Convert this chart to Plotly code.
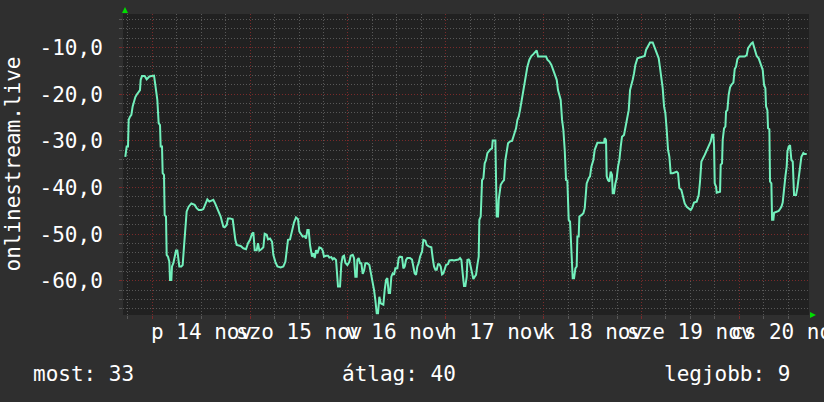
import pandas as pd
import plotly.graph_objects as go

# ---- data -------------------------------------------------------------
BASE = "2025-11-14 00:00"   # hours below are offsets from this moment
hours = [
    -6.62, -6.29, -5.96, -5.80, -5.47, -5.14, -4.82, -4.49, -4.16, -3.84,
    -3.35, -3.02, -2.85, -2.53, -1.87, -1.38, -0.73, -0.24, 0.42, 0.74,
    1.23, 1.56, 1.89, 2.05, 2.38, 2.54, 2.87, 3.03, 3.36, 3.52,
    3.85, 4.18, 4.34, 4.67, 4.83, 5.16, 5.49, 5.82, 6.14, 6.31,
    6.63, 7.12, 7.45, 7.78, 8.10, 8.43, 8.92, 9.58, 10.39, 10.88,
    11.38, 12.03, 12.52, 13.01, 13.50, 13.99, 14.48, 14.97, 15.46, 15.96,
    16.28, 16.77, 17.10, 17.43, 17.75, 18.25, 18.57, 19.06, 19.72, 20.04,
    20.37,
    20.70, 21.68, 22.33, 22.99, 23.48, 23.97, 24.46, 24.79, 25.12, 25.61,
    25.93, 26.26, 26.75, 27.24, 27.57, 28.06, 28.39, 28.88, 29.37, 29.69,
    30.18, 30.68, 31.49, 32.15, 32.64, 32.97, 33.29, 33.78, 34.11, 34.44,
    34.76, 35.25, 35.75, 36.07, 36.40, 36.89, 37.38, 37.71, 38.04, 38.36,
    38.69, 39.18, 39.51, 39.84, 40.16, 40.49, 40.98, 41.47, 41.80, 42.12,
    42.62, 43.11, 43.43, 43.92, 44.25, 44.58, 45.07, 45.40, 45.56, 46.05,
    46.38, 46.70, 47.03, 47.36, 47.85, 48.34, 48.67, 49.16,
    49.49, 49.81, 50.14, 50.30, 50.63, 50.96, 51.28, 51.61, 51.94, 52.27,
    52.76, 53.25, 53.57, 53.90, 54.39, 54.72, 55.05, 55.37, 55.70, 56.03,
    56.68, 57.01, 57.34, 57.66, 57.99, 58.32, 58.64, 58.97, 59.30, 59.63,
    60.12, 60.44, 60.77, 61.26, 61.59, 61.92, 62.24, 62.57, 63.22, 63.71,
    64.04, 64.37, 64.70, 65.02, 65.35, 65.68, 66.17, 66.50, 66.99, 67.31,
    67.80, 68.46, 68.79, 69.11, 69.44, 69.77, 70.09, 70.42, 70.75, 71.08,
    71.40, 71.73, 72.06, 72.55, 72.87, 73.53, 74.02, 74.51, 75.16, 75.49,
    75.82, 76.14, 76.47, 76.80, 77.13, 77.29, 77.62,
    77.78, 78.11, 78.44, 78.76, 79.09, 79.42, 79.74, 80.07, 80.23, 80.56,
    80.72, 80.89, 81.22, 81.54, 81.87, 82.20, 82.85, 83.34, 83.51, 84.16,
    84.49, 84.81, 84.98, 85.47, 85.96, 86.29, 86.61, 86.94, 87.27, 87.76,
    88.25, 88.58, 88.90, 89.23, 89.56, 89.88, 90.21, 90.54, 91.03, 91.36,
    91.68, 92.01, 92.50, 92.99, 93.48, 93.97, 94.30, 94.63, 96.59, 96.92,
    97.41, 97.90, 98.39, 98.72, 99.21, 99.53, 99.86, 100.19, 100.52, 100.84,
    101.17, 101.50, 101.82, 102.15, 102.48, 102.81, 103.13, 103.46, 103.79, 104.11,
    104.28, 104.60, 104.77, 105.26, 105.75, 106.08, 106.40,
    106.56, 107.06, 107.38, 107.71, 108.20, 108.53, 108.85, 109.18, 110.82, 110.98,
    111.31, 111.47, 111.80, 112.13, 112.45, 112.78, 112.94, 113.27, 113.60, 113.93,
    114.25, 114.58, 114.91, 115.23, 115.72, 116.05, 116.54, 116.87, 117.20, 117.52,
    117.85, 118.18, 118.50, 119.00, 120.79, 121.12, 121.61, 122.10, 122.76, 123.25,
    123.74, 124.23, 124.56, 124.88, 125.21, 125.54, 125.87, 126.19, 126.52, 126.85,
    127.17, 127.66, 128.15, 128.65, 128.97, 129.30, 129.79, 130.12, 130.61, 131.10,
    131.59, 132.08, 132.41, 132.90, 133.55, 134.04, 134.37, 134.70,
    135.52, 136.01, 136.50, 136.99, 137.31, 137.64, 137.81, 137.97, 138.30, 138.46,
    139.28, 139.44, 139.77, 139.93, 140.26, 140.59, 140.75, 141.08, 141.40, 141.73,
    142.06, 142.55, 142.88, 143.20, 143.53, 144.02, 145.33, 145.82, 146.15, 146.64,
    146.96, 147.29, 147.62, 147.95, 148.27, 148.76, 149.09, 149.42, 149.75, 150.07,
    150.40, 150.56, 150.89, 151.05, 151.38, 151.54, 151.87, 152.04, 152.36, 152.53,
    153.18, 153.67, 154.00, 154.33, 154.65, 154.98, 155.31, 155.63, 155.80, 156.12,
    156.45, 156.78, 157.11, 157.43, 157.92, 158.25, 158.58, 158.90, 159.23, 159.72,
    160.05, 160.54,
]
rank = [
    -33.4, -31.2, -31.2, -25.5, -24.8, -24.4, -22.6, -21.2, -20.6, -20.1,
    -19.4, -19.1, -16.9, -16.1, -16.1, -16.8, -16.2, -16.1, -16.0, -18.0,
    -21.2, -26.2, -26.6, -31.2, -31.2, -36.9, -37.3, -45.9, -46.2, -54.4,
    -54.8, -55.9, -59.8, -59.8, -56.9, -56.2, -54.8, -53.5, -53.5, -54.8,
    -56.9, -56.9, -56.6, -52.6, -47.6, -45.1, -44.1, -43.4, -43.7, -44.4,
    -44.8, -44.8, -44.6, -43.4, -42.5, -43.0, -42.8, -42.6, -43.5, -44.4,
    -45.1, -46.2, -47.3, -48.4, -48.5, -48.0, -46.6, -46.6, -46.8, -49.1,
    -51.2,
    -52.3, -52.5, -53.0, -53.2, -51.9, -51.2, -49.9, -49.6, -53.4, -53.4,
    -51.9, -53.5, -53.2, -52.8, -49.9, -50.1, -51.1, -50.9, -51.6, -54.4,
    -55.9, -56.9, -57.1, -56.9, -55.9, -53.7, -51.2, -51.1, -49.9, -49.1,
    -47.5, -46.4, -46.8, -49.4, -49.9, -50.5, -50.4, -50.9, -49.1, -49.1,
    -52.3, -54.8, -54.1, -55.1, -53.4, -54.1, -52.8, -53.0, -53.5, -54.8,
    -54.6, -54.6, -55.0, -54.9, -55.4, -55.1, -55.5, -58.4, -61.2, -61.2,
    -56.2, -54.8, -54.6, -56.1, -56.6, -55.9, -54.6, -54.4,
    -55.1, -59.1, -59.1, -55.5, -55.1, -56.2, -56.2, -58.5, -57.8, -56.2,
    -56.2, -56.6, -58.0, -60.1, -61.9, -64.1, -66.9, -66.9, -63.4, -64.8,
    -65.1, -61.9, -59.8, -59.4, -62.6, -62.6, -59.1, -58.4, -58.7, -57.3,
    -57.3, -55.1, -54.8, -54.9, -57.3, -56.9, -55.5, -55.1, -55.1, -55.4,
    -56.9, -58.4, -58.7, -56.9, -56.2, -54.8, -53.7, -51.2, -51.4, -52.3,
    -52.6, -52.8, -55.1, -56.9, -57.6, -57.6, -56.4, -56.4, -56.9, -58.6,
    -58.4, -57.3, -56.6, -56.4, -55.6, -55.5, -55.6, -55.5, -55.4, -55.1,
    -55.5, -58.4, -61.1, -61.1, -59.1, -55.5, -55.4,
    -55.6, -56.9, -58.4, -59.6, -59.1, -58.7, -56.6, -54.8, -46.9, -46.2,
    -42.6, -38.4, -38.0, -34.8, -34.1, -32.6, -31.9, -31.6, -29.9, -29.9,
    -46.2, -46.2, -42.6, -39.4, -38.7, -38.4, -34.1, -32.6, -30.5, -30.1,
    -30.0, -29.1, -28.4, -27.3, -25.5, -24.8, -23.4, -21.6, -19.1, -18.0,
    -15.9, -14.1, -12.6, -11.8, -11.4, -10.9, -10.6, -11.9, -11.9, -12.6,
    -13.0, -13.7, -14.8, -15.9, -16.9, -19.1, -20.5, -21.2, -25.5, -27.6,
    -31.9, -38.4, -38.5, -46.9, -47.3, -53.4, -59.4, -59.4, -57.3, -56.9,
    -50.5, -50.5, -46.2, -45.9, -45.5, -44.4, -39.8,
    -39.1, -38.0, -37.6, -35.5, -34.1, -31.9, -30.9, -30.4, -30.4, -29.4,
    -29.8, -37.6, -38.4, -38.7, -36.6, -37.3, -41.2, -41.2, -39.1, -38.0,
    -35.5, -34.1, -31.2, -29.1, -28.7, -26.9, -24.8, -23.4, -19.1, -17.6,
    -16.9, -15.5, -13.7, -12.3, -11.8, -10.5, -9.8, -8.9, -8.9, -10.1,
    -11.2, -12.3, -14.4, -16.2, -18.7, -22.6, -24.1, -27.6, -31.9, -33.4,
    -36.9, -36.9, -36.8, -36.6, -36.9, -40.1, -40.5, -41.9, -43.4, -44.1,
    -44.4, -44.8, -44.4, -43.2, -43.0, -41.6, -38.7, -34.4,
    -33.0, -31.9, -30.9, -30.1, -28.7, -28.7, -30.9, -39.1, -39.8, -41.1,
    -40.9, -35.1, -34.8, -29.8, -27.3, -26.9, -23.7, -23.4, -20.1, -18.5,
    -18.0, -17.5, -14.6, -14.1, -12.5, -11.9, -11.9, -11.6, -10.1, -9.4,
    -9.1, -8.9, -9.8, -11.2, -11.8, -12.3, -13.0, -14.1, -14.8, -18.0,
    -18.7, -22.6, -23.4, -27.3, -27.5, -38.7, -39.1, -46.9, -46.9, -45.4,
    -45.1, -45.0, -44.6, -44.1, -43.2, -39.4, -37.6, -35.5, -32.3, -31.2,
    -30.9, -34.1, -34.4, -41.6, -41.6, -40.1, -37.6, -35.5, -33.4, -32.6,
    -32.8, -32.8,
]
assert len(hours) == len(rank)

day_label_hours = [12, 36, 60, 84, 108, 132, 156]
day_labels = ["p 14 nov", "szo 15 nov", "v 16 nov", "h 17 nov",
              "k 18 nov", "sze 19 nov", "cs 20 nov"]
y_tick_values = [-60, -50, -40, -30, -20, -10]
y_tick_labels = ["-60,0", "-50,0", "-40,0", "-30,0", "-20,0", "-10,0"]
axis_title = "onlinestream.live"
legend_texts = ["most: 33", "átlag: 40", "legjobb: 9"]
x_range_hours = [-7.19, 161.1]
y_range = [-67.3, -2.8]

# ---- figure -----------------------------------------------------------
base = pd.Timestamp(BASE)
to_time = lambda h: base + pd.to_timedelta(h, unit="h")
times = [to_time(h) for h in hours]

FONT = "DejaVu Sans Mono"
FS = 21
BG = "#2f2f2f"
CANVAS = "#212121"
MINOR = "#585858"
MAJOR = "#7a2a2a"
DASH = "1px,2px"
TXT = "#ffffff"

fig = go.Figure()
fig.add_trace(go.Scatter(x=times, y=rank, mode="lines",
                         line=dict(color="#72f0bc", width=2),
                         hoverinfo="skip", showlegend=False))

W, H = 824, 402
L, R, T, B = 123, 15, 14, 87
pw, ph = W - L - R, H - T - B

fig.update_layout(
    width=W, height=H,
    margin=dict(l=L, r=R, t=T, b=B, pad=0),
    paper_bgcolor=BG, plot_bgcolor=CANVAS,
    font=dict(family=FONT, size=FS, color=TXT),
    showlegend=False,
)
fig.update_xaxes(
    type="date",
    range=[to_time(x_range_hours[0]), to_time(x_range_hours[1])],
    tick0=BASE, dtick=86400000,
    showticklabels=False,
    showgrid=True, gridcolor=MAJOR, griddash=DASH, gridwidth=1,
    ticks="outside", ticklen=3, tickcolor=MAJOR, tickwidth=1,
    minor=dict(tick0=BASE, dtick=6 * 3600000, showgrid=True,
               gridcolor=MINOR, griddash=DASH, gridwidth=1,
               ticks="outside", ticklen=3, tickcolor=MINOR),
    zeroline=False, showline=False, fixedrange=True, automargin=False,
)
fig.update_yaxes(
    range=y_range,
    tickmode="array", tickvals=y_tick_values, ticktext=y_tick_labels,
    showgrid=True, gridcolor=MAJOR, griddash=DASH, gridwidth=1,
    ticks="outside", ticklen=3, tickcolor=MAJOR,
    ticklabelstandoff=12,
    tickfont=dict(family=FONT, size=FS, color=TXT),
    minor=dict(tickmode="linear", tick0=0, dtick=2, showgrid=True,
               gridcolor=MINOR, griddash=DASH, gridwidth=1,
               ticks="outside", ticklen=3, tickcolor=MINOR),
    zeroline=False, showline=False, fixedrange=True, automargin=False,
)

annotations = []
for h, lab in zip(day_label_hours, day_labels):
    annotations.append(dict(x=to_time(h), xref="x", y=(T + ph - 332) / ph,
                            yref="paper", text=lab, showarrow=False,
                            xanchor="center", yanchor="middle",
                            font=dict(family=FONT, size=FS, color=TXT)))
# y axis title
annotations.append(dict(x=(12 - L) / pw, xref="paper", y=0.5, yref="paper",
                        text=axis_title, textangle=-90, showarrow=False,
                        xanchor="center", yanchor="middle",
                        font=dict(family=FONT, size=FS, color=TXT)))
# legend line
for px, txt in zip([31, 340, 662], legend_texts):
    annotations.append(dict(x=(px - L) / pw, xref="paper",
                            y=(T + ph - 374) / ph, yref="paper",
                            text=txt, showarrow=False,
                            xanchor="left", yanchor="middle",
                            font=dict(family=FONT, size=FS, color=TXT)))
fig.update_layout(annotations=annotations)

# green axis arrows
def px2paper(x, y):
    return (x - L) / pw, (T + ph - y) / ph

def tri(points):
    pts = [px2paper(x, y) for x, y in points]
    return "M " + " L ".join(f"{a:.5f},{b:.5f}" for a, b in pts) + " Z"

fig.add_shape(type="path", xref="paper", yref="paper",
              path=tri([(122, 13), (128, 13), (125, 7)]),
              fillcolor="#00dd00", line=dict(width=0), layer="above")
fig.add_shape(type="path", xref="paper", yref="paper",
              path=tri([(810, 312), (810, 318), (816, 315)]),
              fillcolor="#00dd00", line=dict(width=0), layer="above")

fig.write_html(
    "out.html",
    config={"displayModeBar": False, "staticPlot": True},
    post_script="document.body.style.margin='0';"
                "document.body.style.background='" + BG + "';",
)
